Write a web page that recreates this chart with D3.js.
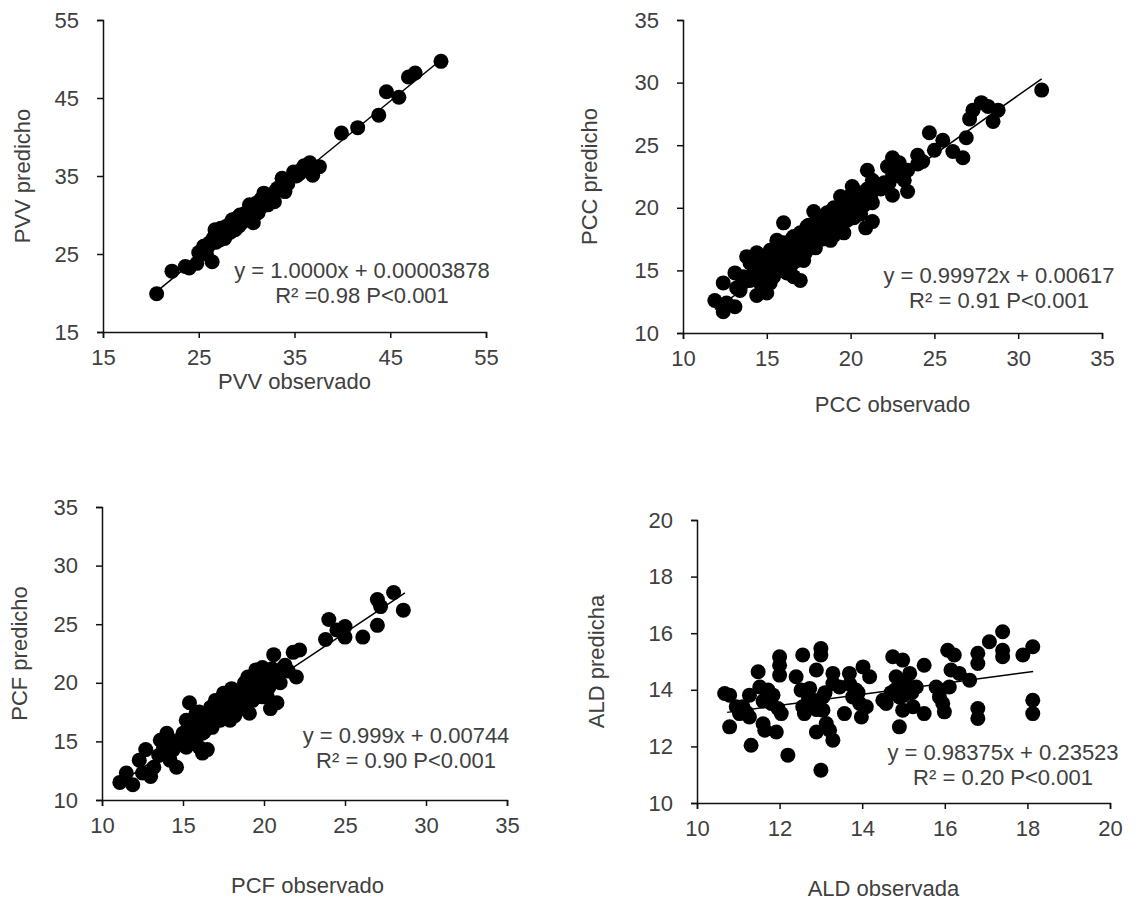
<!DOCTYPE html>
<html>
<head>
<meta charset="utf-8">
<script src="https://cdnjs.cloudflare.com/ajax/libs/d3/7.8.5/d3.min.js"></script>
<style>
  body { margin: 0; background: #fff; }
  svg text { font-family: "Liberation Sans", Arial, sans-serif; }
</style>
</head>
<body>
<div id="chart"></div>
<script>
// ---- PVV ----
const pvvObs = [20.6, 22.2, 23.6, 24.0, 24.8, 25.4, 26.4, 26.1, 26.7, 27.2, 27.8, 28.5, 28.8, 29.5, 30.3, 30.7, 31.2,
  31.8, 32.9, 33.7, 34.0, 34.9, 35.7, 36.6, 36.9, 37.6, 39.9, 41.6, 43.8, 44.6, 45.9, 46.9, 47.6, 50.3,
  25.0, 25.8, 26.5, 27.0, 27.5, 28.0, 28.2, 29.0, 29.2, 29.8, 30.0, 30.5, 31.0, 31.5, 32.0, 32.5, 33.2, 35.2, 36.0, 27.5, 28.5,
  26.0, 26.8, 27.3, 28.3, 28.7, 29.3, 30.2, 30.8, 27.7, 31.5, 32.2, 33.0, 34.3, 35.5, 25.5];
const pvvPred = [19.9, 22.8, 23.4, 23.2, 23.8, 25.5, 24.0, 26.4, 28.1, 26.8, 28.5, 29.4, 28.1, 29.0, 31.3, 29.0, 30.3,
  32.8, 31.7, 34.7, 33.0, 35.5, 35.8, 36.7, 35.1, 36.2, 40.5, 41.2, 42.8, 45.8, 45.1, 47.7, 48.2, 49.7,
  25.2, 25.0, 27.0, 27.8, 27.3, 27.6, 28.8, 29.6, 28.6, 30.2, 29.8, 30.8, 31.5, 31.0, 32.3, 32.0, 33.4, 35.0, 36.3, 28.0, 28.3,
  26.0, 26.5, 28.3, 27.8, 29.0, 30.0, 30.5, 30.0, 27.0, 32.0, 31.3, 33.0, 34.0, 35.3, 26.0];
const pvvTicks = [15, 25, 35, 45, 55];
const pvvTrend = [1.0, -0.4, 20.2, 50.4]; // slope, intercept, x from, x to
const pvvEq = ["y = 1.0000x + 0.00003878", "R\u00b2 =0.98 P<0.001"];

// ---- PCC ----
const pccObs = [31.4, 27.8, 27.3, 27.1, 28.8, 28.5, 28.2, 24.7, 25.5, 25.0, 26.9, 26.1, 26.7, 24.0, 24.3, 22.5, 22.9,
  22.2, 23.4, 21.0, 22.5, 22.5, 23.4, 20.1, 21.3, 21.3, 20.9, 21.3, 19.4, 19.8, 19.6, 18.6, 17.8, 18.2, 18.8, 17.4,
  16.0, 16.6, 17.2, 15.6, 15.2, 16.2, 17.0, 14.4, 15.0, 15.6, 14.0, 17.2, 16.2, 17.0, 16.6, 15.4, 14.6, 13.1, 13.8,
  12.4, 14.4, 15.0, 13.4, 11.9, 12.6, 13.1, 12.4, 13.8,
  17.5, 18.0, 18.5, 19.0, 19.2, 18.3, 17.7, 16.8, 16.4, 15.8, 15.3, 14.8, 19.5, 20.5, 20.0, 21.8, 20.6, 18.9, 17.9,
  16.5, 14.1, 13.5, 21.5, 22.0, 23.0, 19.0, 20.2, 24.0,
  14.5, 15.0, 15.5, 16.0, 16.5, 17.0, 17.5, 18.0, 18.5, 19.0, 19.5, 20.0, 20.5, 21.0, 15.2, 15.8, 16.3, 16.8, 17.3,
  17.8, 18.3, 18.8, 19.3, 19.8, 20.3, 20.8, 14.0, 14.6, 13.2, 13.6, 16.0, 17.0, 18.0, 19.0, 15.5, 16.5, 17.5, 18.5,
  20.0, 21.2, 22.3, 23.2, 22.8];
const pccPred = [29.4, 28.4, 27.8, 27.1, 27.8, 26.9, 28.1, 26.0, 25.4, 24.6, 25.6, 24.5, 24.0, 24.2, 23.7, 24.0, 23.6,
  23.3, 23.0, 23.0, 22.5, 21.0, 21.3, 21.7, 22.2, 20.4, 18.4, 18.9, 20.9, 19.8, 18.0, 19.6, 19.7, 18.8, 17.4, 18.5,
  18.8, 17.7, 17.2, 17.4, 16.6, 16.6, 16.6, 16.4, 15.6, 15.8, 15.6, 15.8, 14.8, 14.2, 14.5, 14.5, 14.8, 14.8, 14.2,
  14.0, 13.0, 13.2, 13.4, 12.6, 12.4, 12.1, 11.7, 16.1,
  18.0, 18.2, 18.5, 19.0, 18.2, 17.8, 17.3, 16.2, 16.0, 16.3, 15.2, 15.3, 19.5, 20.5, 20.2, 21.5, 19.5, 19.8, 16.8,
  15.5, 14.6, 13.9, 21.8, 22.0, 22.5, 17.8, 19.2, 23.5,
  15.5, 16.2, 16.8, 17.2, 17.5, 18.0, 18.6, 19.2, 19.0, 20.0, 20.3, 21.0, 21.2, 21.5, 14.0, 15.0, 15.3, 15.8, 16.4,
  17.0, 17.5, 18.2, 18.6, 19.0, 19.8, 20.2, 14.2, 14.0, 13.6, 14.5, 16.5, 17.5, 18.5, 19.2, 15.5, 16.8, 17.8, 18.0,
  20.5, 20.8, 22.0, 22.2, 23.0];
const pccXTicks = [10, 15, 20, 25, 30, 35];
const pccYTicks = [10, 15, 20, 25, 30, 35];
const pccTrend = [0.944, 0.66, 11.9, 31.4];
const pccEq = ["y = 0.99972x + 0.00617", "R\u00b2 = 0.91 P<0.001"];

// ---- PCF ----
const pcfObs = [28.0, 28.6, 27.0, 27.2, 27.0, 26.1, 24.0, 23.8, 24.5, 25.0, 25.0, 21.8, 22.2, 20.6, 22.0, 21.2, 19.9,
  19.5, 20.4, 20.8, 20.4, 19.9, 19.1, 18.8, 18.4, 17.9, 17.5, 17.1, 16.7, 16.2, 16.2, 15.9, 15.4, 15.2, 15.0, 15.4,
  14.6, 14.2, 14.0, 13.8, 13.2, 13.0, 12.7, 12.3, 12.5, 11.9, 11.5, 11.1, 16.0, 16.5, 14.4, 13.6,
  18.0, 18.5, 19.0, 17.0, 16.5, 17.5, 18.2, 19.3, 20.0, 21.0, 15.6, 16.8, 17.8, 18.8, 15.8, 14.8, 20.5, 19.6, 21.5,
  14.5, 15.0, 15.5, 16.0, 16.5, 17.0, 17.5, 18.0, 18.5, 19.0, 19.5, 20.0, 15.2, 15.8, 16.3, 16.8, 17.3, 17.8, 18.3,
  18.8, 19.3, 19.8, 20.3, 14.2, 13.5, 16.0, 17.0, 18.0, 19.0, 20.8, 21.3, 20.2, 15.6, 16.6, 17.6, 18.6];
const pcfPred = [27.7, 26.2, 27.1, 26.5, 24.9, 23.9, 25.4, 23.7, 24.5, 24.8, 23.9, 22.6, 22.8, 22.4, 20.5, 21.3, 21.3,
  21.1, 20.2, 18.3, 17.8, 18.8, 17.4, 20.0, 18.8, 16.8, 19.1, 17.9, 17.9, 15.7, 14.0, 16.8, 18.3, 16.8, 15.7, 15.1,
  12.8, 13.4, 15.7, 14.5, 12.8, 12.0, 14.3, 13.4, 12.3, 11.3, 12.3, 11.5, 14.5, 14.3, 14.3, 15.1,
  18.0, 18.5, 19.5, 17.0, 16.5, 17.5, 17.2, 18.5, 20.5, 20.0, 16.0, 16.2, 18.2, 19.0, 17.4, 14.8, 21.2, 19.8, 21.0,
  15.0, 15.5, 16.2, 16.8, 17.2, 17.8, 18.3, 18.8, 19.3, 20.0, 20.5, 21.0, 14.5, 15.2, 15.8, 16.5, 16.8, 17.5, 18.0,
  18.2, 19.0, 19.5, 19.6, 14.2, 13.8, 17.5, 18.5, 19.5, 20.5, 21.0, 21.5, 18.8, 15.6, 16.2, 17.2, 17.8];
const pcfXTicks = [10, 15, 20, 25, 30, 35];
const pcfYTicks = [10, 15, 20, 25, 30, 35];
const pcfTrend = [0.921, 1.23, 11.1, 28.7];
const pcfEq = ["y = 0.999x + 0.00744", "R\u00b2 = 0.90 P<0.001"];

// ---- ALD ----
const aldObs = [10.67, 10.79, 10.79, 10.95, 11.03, 11.11, 11.27, 11.27, 11.31, 11.48, 11.52, 11.6, 11.64, 11.72, 11.8,
  11.84, 11.92, 12.0, 12.0, 12.0, 12.04, 11.96, 12.2, 12.4, 12.56, 12.52, 12.56, 12.6, 12.73, 12.89, 12.81, 12.89,
  13.0, 13.0, 13.0, 13.05, 13.05, 13.13, 13.21, 13.29, 13.29, 13.29, 13.45, 13.57, 13.69, 13.77, 13.85, 13.94, 14.02,
  13.98, 14.18, 14.1, 14.5, 14.58, 14.74, 14.82, 14.9, 14.9, 14.98, 14.98, 15.06, 15.15, 15.31, 15.23, 15.5, 15.5,
  15.79, 15.87, 15.95, 15.99, 16.07, 16.11, 16.15, 16.23, 16.35, 16.6, 16.8, 16.8, 16.8, 16.8, 17.08, 17.4, 17.4,
  17.4, 17.89, 18.13, 18.13, 18.13,
  14.8, 15.0, 14.9, 15.2, 14.7, 13.9, 13.7, 11.2, 11.6, 12.7, 12.9, 13.1];
const aldPred = [13.87, 13.81, 12.69, 13.4, 13.16, 13.4, 13.04, 13.81, 12.04, 14.64, 14.1, 12.8, 12.57, 13.99, 13.52,
  13.81, 12.51, 15.17, 14.87, 14.52, 13.16, 13.34, 11.69, 14.46, 15.23, 13.99, 13.4, 13.16, 14.05, 14.7, 13.63, 12.51,
  15.46, 15.23, 11.16, 13.75, 13.28, 12.81, 12.57, 12.22, 14.58, 14.22, 14.1, 13.16, 14.58, 13.75, 13.99, 13.52, 14.81,
  13.04, 14.46, 13.4, 13.63, 13.52, 15.17, 14.46, 12.69, 13.75, 15.05, 13.28, 14.22, 14.58, 14.1, 13.4, 14.87, 13.16,
  14.1, 13.75, 13.52, 13.22, 15.4, 14.1, 14.7, 15.23, 14.58, 14.34, 15.29, 14.93, 13.34, 12.99, 15.7, 16.05, 15.4,
  15.17, 15.23, 15.52, 13.63, 13.16,
  14.0, 13.8, 14.3, 13.9, 13.9, 13.9, 14.2, 13.2, 13.6, 13.7, 13.3, 13.9];
const aldTicks = [10, 12, 14, 16, 18, 20];
const aldTrend = [0.195, 11.11, 10.73, 18.14];
const aldEq = ["y = 0.98375x + 0.23523", "R\u00b2 = 0.20 P<0.001"];

const width = 1142, height = 905;
const textColor = "#404040";

const svg = d3.select("#chart")
  .append("svg")
  .attr("width", width)
  .attr("height", height);

function drawPanel(p) {
  const x = d3.scaleLinear().domain(d3.extent(p.xTicks)).range([p.left, p.right]);
  const y = d3.scaleLinear().domain(d3.extent(p.yTicks)).range([p.bottom, p.top]);
  const g = svg.append("g");

  const data = p.xs.map((d, i) => ({ x: d, y: p.ys[i] }));

  g.selectAll(".dot")
    .data(data)
    .join("circle")
    .attr("class", "dot")
    .attr("cx", d => x(d.x))
    .attr("cy", d => y(d.y))
    .attr("r", 7.5)
    .attr("fill", "#000");

  const t = p.trend;
  g.append("line")
    .attr("x1", x(t[2])).attr("y1", y(t[0] * t[2] + t[1]))
    .attr("x2", x(t[3])).attr("y2", y(t[0] * t[3] + t[1]))
    .attr("stroke", "#000")
    .attr("stroke-width", 1.5);

  const xa = g.append("g")
    .attr("transform", `translate(0,${p.bottom})`)
    .call(d3.axisBottom(x).tickValues(p.xTicks).tickSize(6).tickPadding(11));
  const ya = g.append("g")
    .attr("transform", `translate(${p.left},0)`)
    .call(d3.axisLeft(y).tickValues(p.yTicks).tickSize(6).tickPadding(18));

  [xa, ya].forEach(a => {
    a.selectAll("path, line").attr("stroke", "#111").attr("stroke-width", 1.5);
    a.selectAll("text")
      .attr("font-family", '"Liberation Sans", Arial, sans-serif')
      .attr("font-size", 22)
      .attr("fill", textColor);
  });

  g.append("text")
    .attr("x", (p.left + p.right) / 2 + p.xTitleShift)
    .attr("y", p.xTitleY)
    .attr("text-anchor", "middle")
    .attr("font-size", 22)
    .attr("fill", textColor)
    .text(p.xTitle);

  g.append("text")
    .attr("transform", `translate(${p.yTitleX},${(p.top + p.bottom) / 2}) rotate(-90)`)
    .attr("text-anchor", "middle")
    .attr("font-size", 22)
    .attr("fill", textColor)
    .text(p.yTitle);

  p.eq.forEach((line, i) => {
    g.append("text")
      .attr("x", p.eqX)
      .attr("y", p.eqY + i * 25)
      .attr("text-anchor", "middle")
      .attr("font-size", 22)
      .attr("fill", textColor)
      .text(line);
  });
}

drawPanel({
  xs: pvvObs, ys: pvvPred, xTicks: pvvTicks, yTicks: pvvTicks, trend: pvvTrend, eq: pvvEq,
  left: 103, right: 486, top: 20, bottom: 332,
  xTitle: "PVV observado", yTitle: "PVV predicho", xTitleY: 389, xTitleShift: 0, yTitleX: 30,
  eqX: 362, eqY: 278
});

drawPanel({
  xs: pccObs, ys: pccPred, xTicks: pccXTicks, yTicks: pccYTicks, trend: pccTrend, eq: pccEq,
  left: 683, right: 1102, top: 20, bottom: 333,
  xTitle: "PCC observado", yTitle: "PCC predicho", xTitleY: 412, xTitleShift: 0, yTitleX: 597,
  eqX: 999, eqY: 283
});

drawPanel({
  xs: pcfObs, ys: pcfPred, xTicks: pcfXTicks, yTicks: pcfYTicks, trend: pcfTrend, eq: pcfEq,
  left: 102, right: 507, top: 507, bottom: 800,
  xTitle: "PCF observado", yTitle: "PCF predicho", xTitleY: 893, xTitleShift: 3, yTitleX: 27,
  eqX: 406, eqY: 743
});

drawPanel({
  xs: aldObs, ys: aldPred, xTicks: aldTicks, yTicks: aldTicks, trend: aldTrend, eq: aldEq,
  left: 697, right: 1110, top: 520, bottom: 803,
  xTitle: "ALD observada", yTitle: "ALD predicha", xTitleY: 896, xTitleShift: -20, yTitleX: 604,
  eqX: 1003, eqY: 760
});
</script>
</body>
</html>
